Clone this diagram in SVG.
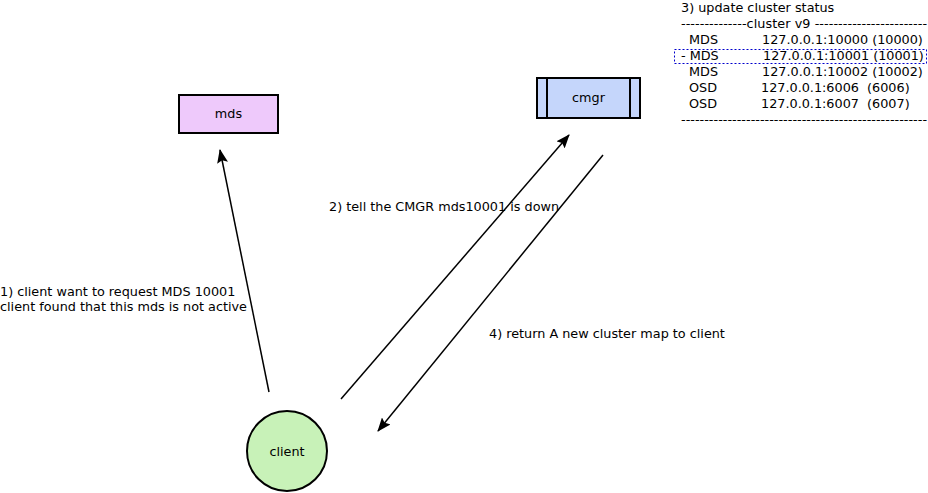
<svg xmlns="http://www.w3.org/2000/svg" width="928" height="493" viewBox="0 0 928 493">
<style>
text{font-family:"DejaVu Sans",sans-serif;font-size:12.8px;fill:#000}
.n{stroke:#000;stroke-width:2}
.c{stroke:#000;stroke-width:1.5;fill:none}
.m{text-anchor:middle}
</style>
<defs>
<marker id="ah" viewBox="0 0 14 11" refX="13" refY="5.5" markerWidth="14" markerHeight="11" markerUnits="userSpaceOnUse" orient="auto">
<path d="M0,0 L14,5.5 L0,11 L2.5,5.5 Z" fill="#000"/>
</marker>
</defs>
<rect width="928" height="493" fill="#fff"/>
<g id="connectors">
<line class="c" x1="269" y1="392" x2="220" y2="150" marker-end="url(#ah)"/>
<line class="c" x1="341" y1="399" x2="569" y2="135" marker-end="url(#ah)"/>
<line class="c" x1="603" y1="155" x2="378" y2="431" marker-end="url(#ah)"/>
</g>
<g id="mds">
<rect class="n" x="179" y="95" width="99" height="38" fill="#eec9fb"/>
<text class="m" x="228.5" y="118">mds</text>
</g>
<g id="cmgr">
<rect class="n" x="537" y="78" width="103" height="40" fill="#c5d6fb"/>
<line class="n" x1="547" y1="78" x2="547" y2="118"/>
<line class="n" x1="630" y1="78" x2="630" y2="118"/>
<text class="m" x="588.5" y="102">cmgr</text>
</g>
<g id="client">
<circle class="n" cx="287" cy="451" r="40" fill="#c8f2b8"/>
<text class="m" x="287" y="456">client</text>
</g>
<g id="labels">
<text x="0" y="296">1) client want to request MDS 10001</text>
<text x="0" y="311">client found that this mds is not active</text>
<text x="329" y="211">2) tell the CMGR mds10001 is down</text>
<text x="489" y="338">4) return A new cluster map to client</text>
</g>
<g id="status">
<text x="681" y="12">3) update cluster status</text>
<text x="681" y="28" textLength="246" lengthAdjust="spacing">--------------cluster v9 ------------------------</text>
<text x="689" y="44">MDS</text><text x="762" y="44">127.0.0.1:10000 (10000)</text>
<rect x="674.5" y="49.5" width="252" height="14" fill="none" stroke="#0000cc" stroke-width="1" stroke-dasharray="2,2"/>
<text x="681" y="60">- MDS</text><text x="763" y="60">127.0.0.1:10001 (10001)</text>
<text x="689" y="76">MDS</text><text x="762" y="76">127.0.0.1:10002 (10002)</text>
<text x="689" y="92">OSD</text><text x="761" y="92" xml:space="preserve">127.0.0.1:6006  (6006)</text>
<text x="689" y="108">OSD</text><text x="761" y="108" xml:space="preserve">127.0.0.1:6007  (6007)</text>
<text x="681" y="124" textLength="246" lengthAdjust="spacing">-----------------------------------------------------</text>
</g>
</svg>
